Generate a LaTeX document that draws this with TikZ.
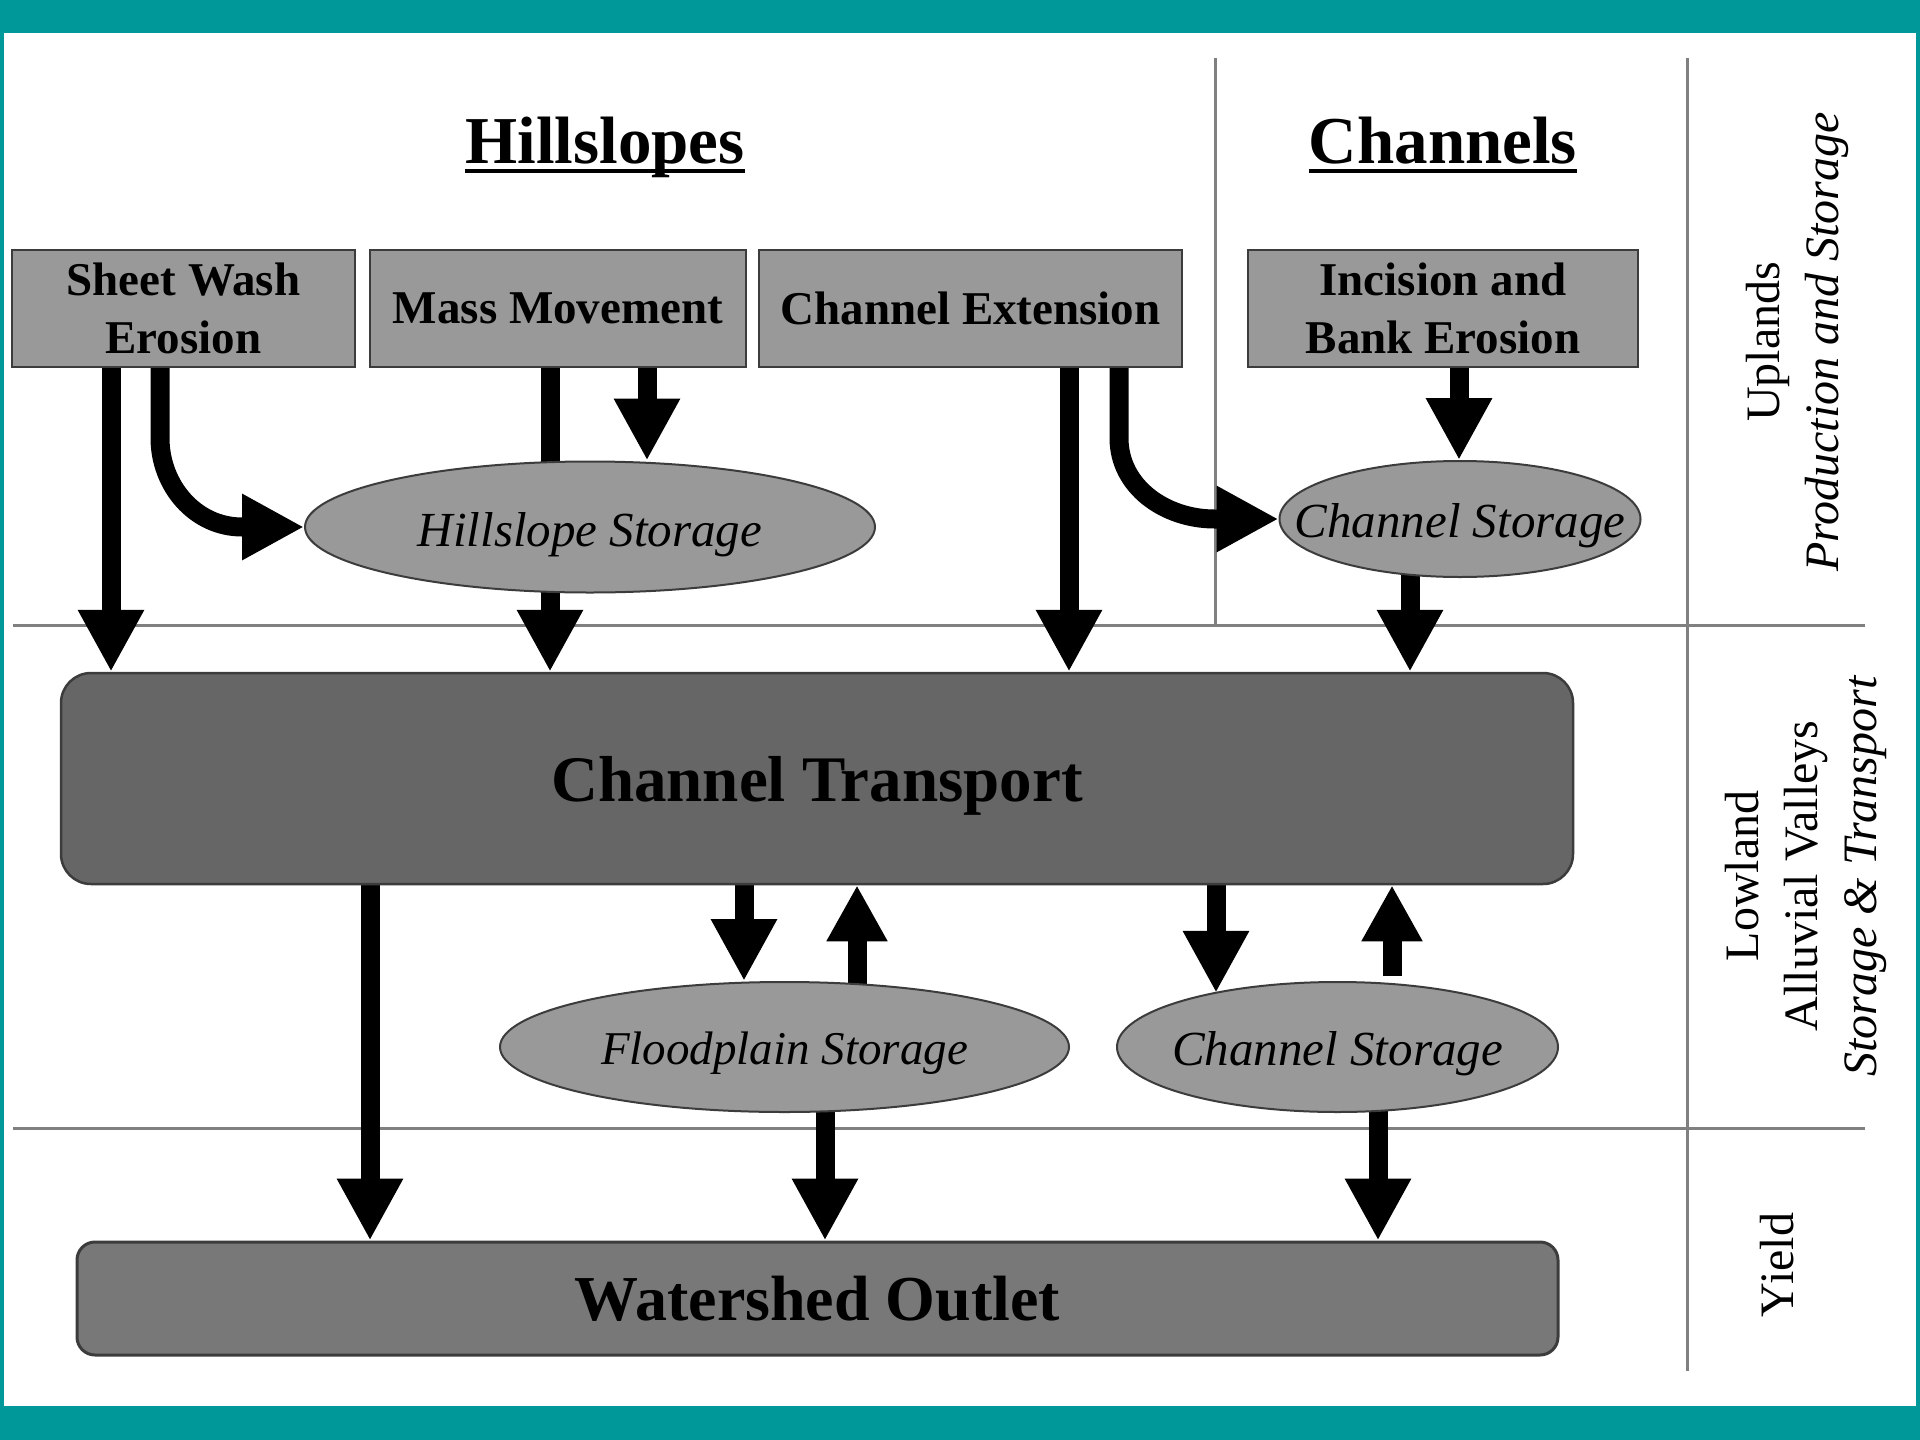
\documentclass[tikz,border=0pt]{standalone}
\usepackage{fontspec}
\setmainfont{Liberation Serif}
\usetikzlibrary{arrows.meta,shapes.geometric,calc}
\definecolor{tealband}{RGB}{0,152,152}
\definecolor{boxgray}{RGB}{153,153,153}
\definecolor{ctgray}{RGB}{102,102,102}
\definecolor{wogray}{RGB}{120,120,120}
\definecolor{linegray}{RGB}{128,128,128}
\definecolor{edgegray}{RGB}{60,60,60}
\pgfdeclarelayer{bg}
\pgfdeclarelayer{arrowlayer}
\pgfsetlayers{bg,arrowlayer,main}
\newcommand{\lowtext}[2]{\makebox[0pt]{\raisebox{-#1}[0pt][0pt]{#2}}}
\begin{document}
\begin{tikzpicture}[x=1pt,y=-1pt,
  topbox/.style={draw=edgegray, line width=2pt, fill=boxgray, inner sep=0pt, align=center,
    font=\fontsize{47}{58}\selectfont\bfseries},
  storage/.style={ellipse, draw=edgegray, line width=2pt, fill=boxgray, inner sep=0pt,
    font=\fontsize{49}{58}\selectfont\itshape},
  ctbox/.style={rounded corners=30pt, draw=edgegray, line width=2.5pt, fill=ctgray, inner sep=0pt,
    font=\fontsize{65}{78}\selectfont\bfseries},
  wobox/.style={rounded corners=18pt, draw=edgegray, line width=3pt, fill=wogray, inner sep=0pt,
    font=\fontsize{64}{77}\selectfont\bfseries},
  titletext/.style={inner sep=0pt, anchor=base, font=\fontsize{67}{80}\selectfont\bfseries},
  sidelabel/.style={rotate=90, align=center, inner sep=0pt, font=\fontsize{48}{59}\selectfont},
  divider/.style={draw=linegray, line width=3pt},
  arr/.style={line width=19pt, -{Triangle[width=62pt,length=62pt]}},
  uparr/.style={line width=19pt, -{Triangle[width=57pt,length=56pt]}}
]
\useasboundingbox (0,0) rectangle (1920,1440);
\begin{pgfonlayer}{bg}
  \fill[tealband] (0,0) rectangle (1920,1440);
  \fill[white] (4,33) rectangle (1916,1406);
  \draw[divider] (13,625) -- (1865,625);
  \draw[divider] (13,1128) -- (1865,1128);
  \draw[divider] (1215,58) -- (1215,625);
  \draw[divider] (1687,58) -- (1687,1371);
\end{pgfonlayer}

% titles
\node[titletext] (hl) at (605,163) {Hillslopes};
\node[titletext] (ch) at (1443,163) {Channels};
\draw[line width=4pt] ($(hl.base west)+(0,8)$) -- ($(hl.base east)+(0,8)$);
\draw[line width=4pt] ($(ch.base west)+(0,8)$) -- ($(ch.base east)+(0,8)$);

% top boxes
\node[topbox, minimum width=343, minimum height=117] (sw) at (183.5,308.5) {Sheet Wash\\Erosion};
\node[topbox, minimum width=376, minimum height=117] (mm) at (558,308.5) {Mass Movement};
\node[topbox, minimum width=423, minimum height=117] (ce) at (970.5,308.5) {Channel Extension};
\node[topbox, minimum width=390, minimum height=117] (ib) at (1443,308.5) {Incision and\\Bank Erosion};

% storages
\node[storage, minimum width=570, minimum height=131] (hs) at (590,527) {\lowtext{19pt}{Hillslope Storage}};
\node[storage, minimum width=361, minimum height=116] (cs1) at (1460,519) {\lowtext{18pt}{Channel Storage}};
\node[storage, minimum width=569, minimum height=130, font=\fontsize{47}{58}\selectfont\itshape] (fs) at (784.5,1047) {\lowtext{17pt}{Floodplain Storage}};
\node[storage, minimum width=441, minimum height=130] (cs2) at (1337.5,1047) {\lowtext{18pt}{Channel Storage}};

% big boxes
\node[ctbox, minimum width=1512, minimum height=211] (ct) at (817,778.5) {\lowtext{23pt}{Channel Transport}};
\node[wobox, minimum width=1481, minimum height=113] (wo) at (817.5,1298.5) {Watershed Outlet};

% side labels
\node[sidelabel] (upl) at (1797,342) {Uplands\\\textit{Production and Storage}};
\node[sidelabel] (low) at (1806,876) {Lowland\\Alluvial Valleys\\\textit{Storage \& Transport}};
\node[sidelabel] (yld) at (1777,1265) {Yield};

% arrows
\begin{pgfonlayer}{arrowlayer}
  \coordinate (p1) at ($(sw.south)+(-72.5,0)$);
  \draw[arr] (p1) -- (p1 |- ct.north);
  \coordinate (p2) at ($(sw.south)+(-23.5,0)$);
  \draw[arr] (p2) -- ++(0,70) to[out=-90,in=180] ($(hs.west)+(-62,0)$) -- (hs.west);
  \coordinate (p3) at ($(mm.south)+(-8,0)$);
  \draw[arr] (p3) -- (p3 |- ct.north);
  \coordinate (p4) at ($(mm.south)+(89,0)$);
  \draw[arr] (p4) -- (p4 |- hs.north);
  \coordinate (p5) at ($(ce.south)+(98.5,0)$);
  \draw[arr] (p5) -- (p5 |- ct.north);
  \coordinate (p6) at ($(ce.south)+(148.5,0)$);
  \draw[arr] (p6) -- ++(0,70) to[out=-90,in=180] ($(cs1.west)+(-64,0)$) -- (cs1.west);
  \coordinate (p7) at ($(ib.south)+(16,0)$);
  \draw[arr] (p7) -- (p7 |- cs1.north);
  \coordinate (p8) at ($(cs1.center)+(-50,0)$);
  \draw[arr] (p8) -- (p8 |- ct.north);
  \coordinate (p9) at ($(ct.south)+(-447,0)$);
  \draw[arr] (p9) -- (p9 |- wo.north);
  \coordinate (p10) at ($(ct.south)+(-73,0)$);
  \draw[arr] (p10) -- (p10 |- fs.north);
  \coordinate (p11) at ($(fs.center)+(72.5,-55)$);
  \draw[uparr] (p11) -- (p11 |- ct.south);
  \coordinate (p12) at ($(fs.center)+(40.5,0)$);
  \draw[arr] (p12) -- (p12 |- wo.north);
  \coordinate (p13) at ($(ct.south)+(399,0)$);
  \coordinate (e13) at ($(cs2.center)+(-121.5,-54.2)$);
  \draw[arr] (p13) -- (p13 |- e13);
  \coordinate (p14) at ($(cs2.center)+(54.5,-71)$);
  \draw[uparr] (p14) -- (p14 |- ct.south);
  \coordinate (p15) at ($(cs2.center)+(40.5,0)$);
  \draw[arr] (p15) -- (p15 |- wo.north);
\end{pgfonlayer}
\end{tikzpicture}
\end{document}
